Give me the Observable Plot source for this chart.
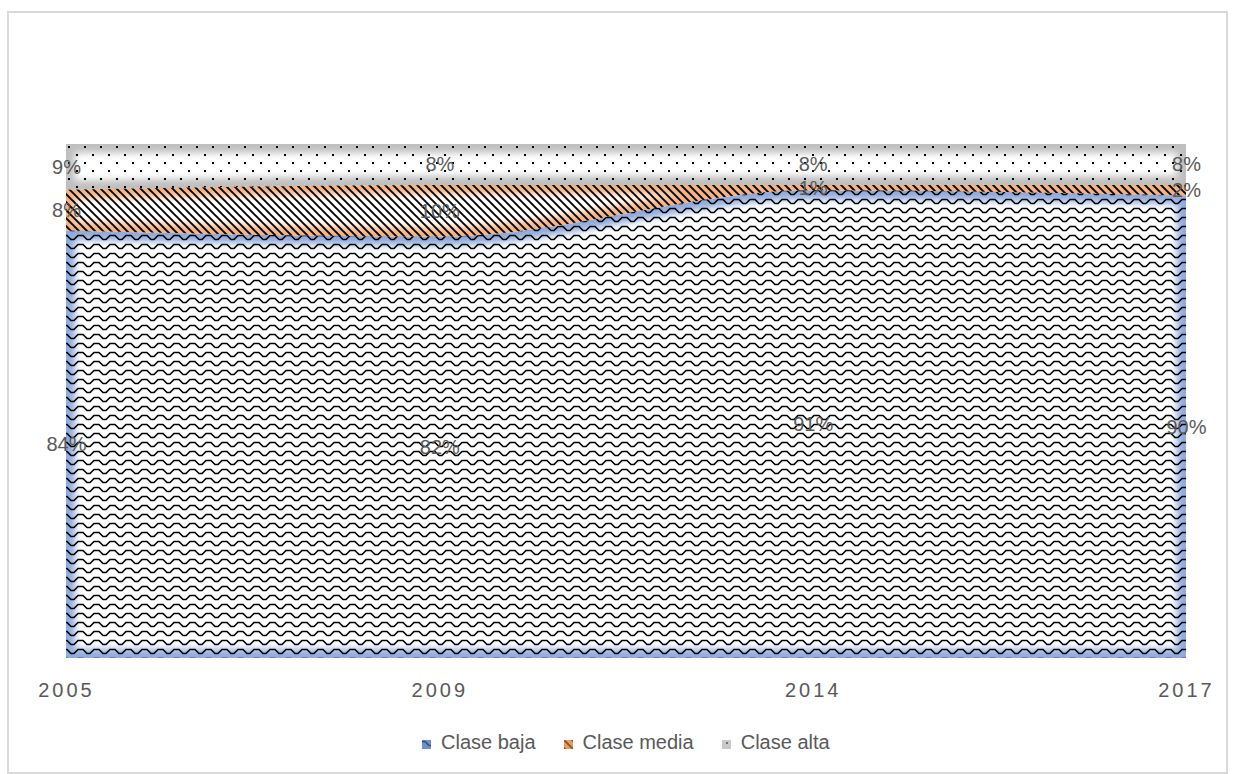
<!DOCTYPE html>
<html>
<head>
<meta charset="utf-8">
<script src="https://cdn.jsdelivr.net/npm/d3@7"></script>
<script src="https://cdn.jsdelivr.net/npm/@observablehq/plot@0.6"></script>
<style>
  body { margin: 0; background: #fff; }
  #wrap { position: relative; width: 1233px; height: 774px; overflow: hidden; font-family: "Liberation Sans", Arial, sans-serif; }
  #frame { position: absolute; left: 7px; top: 11px; width: 1217px; height: 759px; border: 2px solid #d9d9d9; box-sizing: content-box; }
  #chart { position: absolute; left: 0; top: 0; }
  #chart g[aria-label="x-axis tick label"] text { letter-spacing: 3px; }
  #legend { position: absolute; left: 422px; top: 732px; display: flex; align-items: baseline; font-size: 20px; color: #595959; white-space: nowrap; line-height: 20px; }
  .item { display: flex; align-items: baseline; margin-right: 28px; }
  .item svg { margin-right: 10px; }
</style>
</head>
<body>
<div id="wrap">
  <div id="frame"></div>
  <div id="chart"></div>
  <div id="legend"></div>
</div>
<script>
const years = ["2005", "2009", "2014", "2017"];
const series = ["Clase baja", "Clase media", "Clase alta"];
const claseBaja = [84, 82, 91, 90];
const claseMedia = [8, 10, 1, 2];
const claseAlta = [9, 8, 8, 8];

const values = [claseBaja, claseMedia, claseAlta];
const rows = series.flatMap((s, k) => years.map((y, i) => ({i, year: y, clase: s, value: values[k][i]})));

const patternIds = ["pBaja", "pMedia", "pAlta"];
const glowColors = ["#8faadc", "#f4b183", "#bfbfbf"];
const swatchColors = ["#6f8fd0", "#f09a5e", "#c9c9c9"];

const chart = Plot.plot({
  width: 1233,
  height: 774,
  marginLeft: 66,
  marginRight: 47,
  marginTop: 144,
  marginBottom: 116,
  style: {background: "transparent", fontFamily: "Liberation Sans, Arial, sans-serif", color: "#595959"},
  x: {type: "linear", domain: [0, years.length - 1]},
  y: {domain: [0, 1], axis: null},
  color: {type: "ordinal", domain: series, range: patternIds.map(id => `url(#${id})`)},
  marks: [
    Plot.areaY(rows, {x: "i", y: "value", z: "clase", fill: "clase", offset: "normalize", curve: "monotone-x"}),
    Plot.text(rows, Plot.stackY({x: "i", y: "value", z: "clase", offset: "normalize", text: d => d.value + "%", fill: "#595959", fontSize: 20})),
    Plot.axisX({ticks: d3.range(years.length), tickFormat: i => years[i], tickSize: 0, tickPadding: 24, fontSize: 20, label: null})
  ]
});
document.getElementById("chart").appendChild(chart);

// patterns, glow
const svg = d3.select(chart);
const defs = svg.insert("defs", ":first-child");

const pz = defs.append("pattern").attr("id", "pBaja").attr("patternUnits", "userSpaceOnUse").attr("width", 16).attr("height", 9);
pz.append("path").attr("d", "M0,1.5 L3,1.5 L7,5.5 L10,5.5 L14,1.5 L16,1.5").attr("fill", "none").attr("stroke", "#000").attr("stroke-width", 1.6);

const ph = defs.append("pattern").attr("id", "pMedia").attr("patternUnits", "userSpaceOnUse").attr("width", 8).attr("height", 8);
ph.append("path").attr("d", "M-1,-1 L9,9 M-1,7 L1,9 M7,-1 L9,1").attr("fill", "none").attr("stroke", "#000").attr("stroke-width", 1.9);

const pd = defs.append("pattern").attr("id", "pAlta").attr("patternUnits", "userSpaceOnUse").attr("width", 16).attr("height", 16);
pd.append("rect").attr("x", 4).attr("y", 2).attr("width", 2).attr("height", 2).attr("fill", "#000");
pd.append("rect").attr("x", 12).attr("y", 10).attr("width", 2).attr("height", 2).attr("fill", "#000");

const f = defs.append("filter").attr("id", "blur").attr("filterUnits", "userSpaceOnUse")
  .attr("x", 0).attr("y", 0).attr("width", 1233).attr("height", 774);
f.append("feGaussianBlur").attr("stdDeviation", 3.5);

const areaG = svg.select('g[aria-label="area"]');
const glowG = svg.insert("g", () => areaG.node());
areaG.selectAll("path").each(function() {
  const d = this.getAttribute("d");
  const fill = this.getAttribute("fill") || "";
  const k = patternIds.findIndex(id => fill.includes(id));
  if (k < 0) return;
  const cid = "clipArea" + k;
  defs.append("clipPath").attr("id", cid).append("path").attr("d", d);
  glowG.append("path").attr("d", d).attr("fill", "#fff");
  glowG.append("path").attr("d", d).attr("fill", "none")
    .attr("stroke", glowColors[k]).attr("stroke-width", 18)
    .attr("filter", "url(#blur)").attr("clip-path", `url(#${cid})`);
  glowG.append("path").attr("d", d).attr("fill", "none")
    .attr("stroke", glowColors[k]).attr("stroke-width", 3).attr("stroke-opacity", 0.9)
    .attr("clip-path", `url(#${cid})`);
});

// legend
const legend = d3.select("#legend");
series.forEach((s, k) => {
  const it = legend.append("div").attr("class", "item");
  const sw = it.append("svg").attr("width", 9).attr("height", 9);
  sw.append("rect").attr("width", 9).attr("height", 9).attr("fill", swatchColors[k]);
  sw.append("rect").attr("width", 9).attr("height", 9).attr("fill", `url(#${patternIds[k]})`).attr("opacity", 0.45);
  it.append("span").text(s);
});
</script>
</body>
</html>
